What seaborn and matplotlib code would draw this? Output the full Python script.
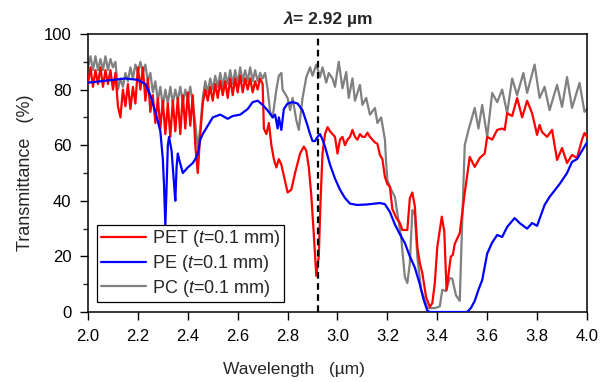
import numpy as np
import pandas as pd
import seaborn as sns
import matplotlib
matplotlib.use("Agg")
import matplotlib.pyplot as plt
from matplotlib.ticker import MultipleLocator, FormatStrFormatter

# noisy part of the spectra, 2.00-2.70 um on a 0.01 um grid
wl_noisy = np.round(np.arange(2.0, 2.705, 0.01), 2)

pet_noisy = [82, 88, 81, 87, 82, 88, 81, 87, 82, 87,
             80, 86, 74, 70, 80, 74, 82, 73, 81, 75,
             88, 80, 88, 76, 84, 72, 78, 68, 77, 66,
             76, 64, 75, 63, 76, 65, 77, 64, 78, 66,
             79, 67, 78, 60, 50, 64, 75, 80, 76, 81,
             76, 82, 77, 83, 78, 83, 77, 84, 78, 84,
             79, 85, 79, 84, 80, 84, 79, 83, 80, 84, 82]

pc_noisy = [88, 92, 87, 92, 87, 91, 87, 92, 87, 91,
            88, 90, 80, 84, 81, 86, 83, 88, 84, 89,
            86, 90, 86, 89, 83, 86, 79, 83, 76, 81,
            74, 80, 75, 81, 75, 80, 76, 81, 75, 80,
            76, 81, 75, 68, 59, 66, 77, 83, 79, 84,
            80, 85, 81, 86, 81, 86, 82, 87, 82, 87,
            82, 88, 83, 87, 83, 88, 83, 87, 83, 86, 84]

# smoother part, 2.70-4.00 um
pet_tail_wl = [2.705, 2.715, 2.725, 2.735, 2.745, 2.755, 2.765, 2.775, 2.785, 2.80,
               2.815, 2.83, 2.85, 2.865, 2.875, 2.885, 2.895, 2.905, 2.915, 2.925,
               2.932, 2.94, 2.95, 2.96, 2.97, 2.98, 2.99, 3.00, 3.01, 3.02,
               3.03, 3.04, 3.05, 3.06, 3.07, 3.08, 3.09, 3.10, 3.11, 3.12,
               3.13, 3.14, 3.15, 3.16, 3.17, 3.18, 3.19, 3.20, 3.21, 3.22,
               3.235, 3.25, 3.26, 3.28, 3.29, 3.30, 3.31, 3.32, 3.33, 3.34,
               3.355, 3.37, 3.38, 3.39, 3.40, 3.418, 3.428, 3.437, 3.454, 3.462,
               3.47, 3.49, 3.51, 3.53, 3.55, 3.57, 3.59, 3.60, 3.62, 3.64,
               3.66, 3.67, 3.68, 3.70, 3.72, 3.74, 3.76, 3.78, 3.80, 3.81,
               3.82, 3.84, 3.86, 3.88, 3.90, 3.92, 3.94, 3.96, 3.98, 3.99, 4.00]
pet_tail = [66, 64, 68, 60, 55, 52, 55, 53, 49, 43,
            44, 50, 57, 59.5, 58, 52, 42, 28, 13, 20,
            40, 57, 64, 66.5, 65, 64, 63, 57, 62, 63,
            60, 62, 63, 65.5, 63, 62, 64, 63, 63, 64.5,
            63, 62, 61, 60.5, 56.5, 55, 48.6, 46, 45, 37,
            34, 32, 29.5, 29.5, 41, 43, 38, 23.4, 17.6, 14,
            5.4, 1.8, 3.2, 10.4, 23.4, 34.3, 29, 7.9, 19.9, 20.5,
            24.5, 28.4, 42.8, 55.8, 52.2, 55.4, 57, 63, 62, 65.5,
            66, 65.5, 71.5, 70.5, 77, 70, 76, 71.5, 63.7, 67.3,
            64.7, 63, 65.5, 54.7, 59, 53.6, 56.5, 55.4, 62, 64.4, 63]

pc_tail_wl = [2.71, 2.72, 2.73, 2.74, 2.755, 2.765, 2.775, 2.78, 2.80, 2.81,
              2.82, 2.835, 2.845, 2.86, 2.875, 2.89, 2.90, 2.915, 2.93, 2.94,
              2.955, 2.965, 2.98, 2.99, 3.005, 3.02, 3.035, 3.045, 3.06, 3.07,
              3.09, 3.10, 3.115, 3.13, 3.15, 3.16, 3.175, 3.19, 3.195, 3.20,
              3.215, 3.23, 3.24, 3.255, 3.27, 3.28, 3.29, 3.30, 3.31, 3.32,
              3.335, 3.35, 3.36, 3.39, 3.41, 3.42, 3.435, 3.45, 3.46, 3.475,
              3.49, 3.50, 3.51, 3.525, 3.55, 3.565, 3.58, 3.60, 3.62, 3.64,
              3.66, 3.68, 3.70, 3.72, 3.745, 3.76, 3.79, 3.81, 3.83, 3.85,
              3.88, 3.90, 3.92, 3.94, 3.97, 3.99, 4.00]
pc_tail = [86, 80, 72, 70, 80, 85, 86, 80, 77, 72.6,
           77, 69, 65.5, 77, 84.5, 88, 85, 89, 84.5, 88,
           82.5, 86, 84, 81, 90, 80.5, 86.3, 77, 84, 76,
           81.7, 74.5, 77, 71, 73.4, 68, 70, 62, 53.6, 47.5,
           44, 41.4, 35.5, 27, 12.6, 10.4, 17.6, 36.7, 35, 19.8,
           8, 4.3, 1.4, 1.4, 2, 8, 7.5, 12.2, 12, 6,
           4, 33, 60, 65.5, 73.4, 66, 74.5, 63, 78.8, 75.5,
           80, 71.5, 84, 78, 86, 78.8, 89, 77, 81, 72.6,
           81.7, 73.8, 84.5, 73.4, 82.4, 72, 73]

pe_wl = [2.00, 2.05, 2.10, 2.15, 2.20, 2.23, 2.25, 2.27, 2.29, 2.30,
         2.305, 2.31, 2.315, 2.32, 2.325, 2.335, 2.345, 2.35, 2.355, 2.36,
         2.365, 2.38, 2.40, 2.42, 2.43, 2.44, 2.45, 2.46, 2.48, 2.50,
         2.53, 2.56, 2.58, 2.61, 2.64, 2.66, 2.68, 2.70, 2.72, 2.74,
         2.75, 2.76, 2.765, 2.775, 2.785, 2.80, 2.82, 2.84, 2.86, 2.88,
         2.89, 2.90, 2.91, 2.92, 2.93, 2.94, 2.95, 2.97, 2.99, 3.01,
         3.03, 3.05, 3.08, 3.12, 3.17, 3.19, 3.21, 3.23, 3.25, 3.27,
         3.29, 3.31, 3.33, 3.345, 3.36, 3.37, 3.52, 3.535, 3.55, 3.565,
         3.58, 3.60, 3.62, 3.64, 3.66, 3.68, 3.71, 3.73, 3.76, 3.78,
         3.80, 3.83, 3.85, 3.89, 3.92, 3.94, 3.96, 3.98, 4.00]
pe_t = [82.5, 83, 83.5, 84, 83.5, 82, 78, 72, 65, 55,
        45, 31, 45, 60, 63, 58, 46, 40, 52, 57,
        55, 50, 52, 53.6, 55, 57, 62, 64, 67, 70,
        71, 69.5, 70.5, 71, 73, 75.5, 76, 74.5, 72.5, 70,
        71, 66, 70, 65.5, 73, 75, 75.5, 75, 72.5, 67,
        64, 61.5, 61.5, 63, 64, 62, 59.5, 53, 48, 44,
        41, 39, 38.5, 38.7, 39.2, 38.8, 36, 31.5, 28, 24.8,
        20, 16, 10, 4.5, 0.5, 0, 0, 1.5, 4, 8,
        11.5, 21, 25, 27.7, 27, 30.6, 33.8, 32, 30, 32,
        31, 38.5, 41.4, 46, 50, 54, 55, 58, 61]

labels = ["PET ($t$=0.1 mm)", "PE ($t$=0.1 mm)", "PC ($t$=0.1 mm)"]
colors = ["#ff0000", "#0000ff", "#808080"]

pet = pd.DataFrame({"wl": list(wl_noisy) + pet_tail_wl, "T": pet_noisy + pet_tail})
pe = pd.DataFrame({"wl": pe_wl, "T": pe_t})
pc = pd.DataFrame({"wl": list(wl_noisy) + pc_tail_wl, "T": pc_noisy + pc_tail})

sns.set_style("ticks")
plt.rcParams["font.family"] = ["Liberation Sans", "DejaVu Sans"]
plt.rcParams["mathtext.fontset"] = "custom"
plt.rcParams["mathtext.rm"] = "Liberation Sans"
plt.rcParams["mathtext.it"] = "Liberation Sans:italic"

fig = plt.figure(figsize=(6.01, 3.82), dpi=100)
ax = fig.add_axes([0.1464, 0.1832, 0.8303, 0.7278])

# PC under, PE on top
sns.lineplot(data=pc, x="wl", y="T", color=colors[2], lw=1.6, sort=False,
             estimator=None, ax=ax, zorder=2)
sns.lineplot(data=pet, x="wl", y="T", color=colors[0], lw=1.6, sort=False,
             estimator=None, ax=ax, zorder=3)
sns.lineplot(data=pe, x="wl", y="T", color=colors[1], lw=1.6, sort=False,
             estimator=None, ax=ax, zorder=4)

ax.axvline(2.92, color="black", ls=(0, (3, 2)), lw=1.6, zorder=5)

ax.set_xlim(2.0, 4.0)
ax.set_ylim(0, 100)
ax.xaxis.set_major_locator(MultipleLocator(0.2))
ax.xaxis.set_major_formatter(FormatStrFormatter("%.1f"))
ax.yaxis.set_major_locator(MultipleLocator(20))
ax.yaxis.set_minor_locator(MultipleLocator(10))
ax.tick_params(which="major", direction="out", length=5.5, width=1, pad=6.5,
               labelsize=12, colors="black")
ax.tick_params(which="minor", direction="out", length=3.5, width=1)
for s in ax.spines.values():
    s.set_linewidth(1.1)
    s.set_color("black")

ax.set_xlabel("Wavelength   (µm)", fontsize=12.5, labelpad=13, x=0.413)
ax.set_ylabel("Transmittance   (%)", fontsize=13, labelpad=7)

# lambda label above the dashed line
ax.text(2.823, 103.6, "λ", fontsize=12.5, fontweight="bold", fontstyle="italic",
        ha="right", va="baseline")
ax.text(2.823, 103.6, "= 2.92 µm", fontsize=12.5, fontweight="bold",
        ha="left", va="baseline")

handles = [plt.Line2D([], [], color=c, lw=1.6) for c in colors]
leg = ax.legend(handles, labels, loc="lower left", bbox_to_anchor=(0.018, 0.035),
                borderaxespad=0, fontsize=13, handlelength=2.5, handletextpad=0.35,
                labelspacing=0.2, borderpad=0.2, fancybox=False, framealpha=1,
                edgecolor="black")
leg.get_frame().set_linewidth(0.9)

fig.savefig("out.png", dpi=100)
